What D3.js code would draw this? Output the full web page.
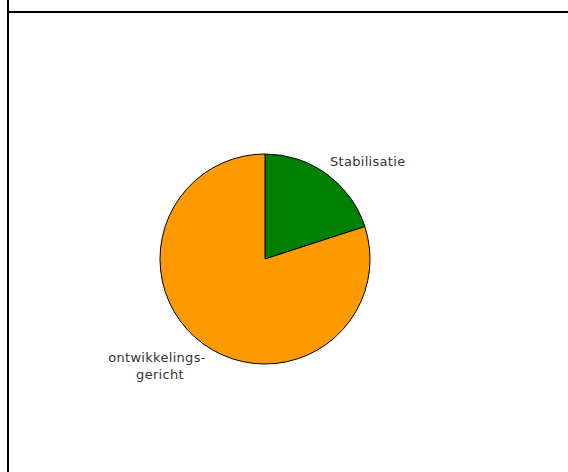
<!DOCTYPE html>
<html><head><meta charset="utf-8">
<script src="https://cdn.jsdelivr.net/npm/d3@7"></script>
<style>body{margin:0;background:#fff}svg{display:block}</style>
</head><body>
<svg id="c" width="568" height="472"></svg>
<script>
const categories = ["Stabilisatie", "ontwikkelings-gericht"];
const values = [20, 80];
const colors = ["#008000", "#FF9900"];
const labelLines = [["Stabilisatie"], ["ontwikkelings-", "gericht"]];

const svg = d3.select("#c");
// frame
svg.append("line").attr("x1", 8).attr("x2", 8).attr("y1", 0).attr("y2", 472).attr("stroke", "#000").attr("stroke-width", 2);
svg.append("line").attr("x1", 8).attr("x2", 568).attr("y1", 12).attr("y2", 12).attr("stroke", "#000").attr("stroke-width", 2);

const cx = 265, cy = 259, R = 105;
const pie = d3.pie().sort(null).value(d => d)(values);
const arc = d3.arc().innerRadius(0).outerRadius(R);
const g = svg.append("g").attr("transform", `translate(${cx},${cy})`);
g.selectAll("path").data(pie).enter().append("path")
  .attr("d", arc)
  .attr("fill", (d, i) => colors[i])
  .attr("stroke", "#000").attr("stroke-width", 1);

const labelPos = [
  {x: 330, y: 166, anchor: "start"},
  {x: 157, y: 362, anchor: "middle"}
];
labelLines.forEach((lines, i) => {
  const p = labelPos[i];
  const t = svg.append("text")
    .attr("x", p.x).attr("y", p.y)
    .attr("text-anchor", p.anchor)
    .attr("font-family", "DejaVu Sans, Verdana, sans-serif")
    .attr("font-size", 13)
    .attr("letter-spacing", 0.3)
    .attr("fill", "#333");
  lines.forEach((l, j) => t.append("tspan").attr("x", p.x + (j ? 3 : 0)).attr("dy", j ? 17 : 0).text(l));
});
</script>
</body></html>
